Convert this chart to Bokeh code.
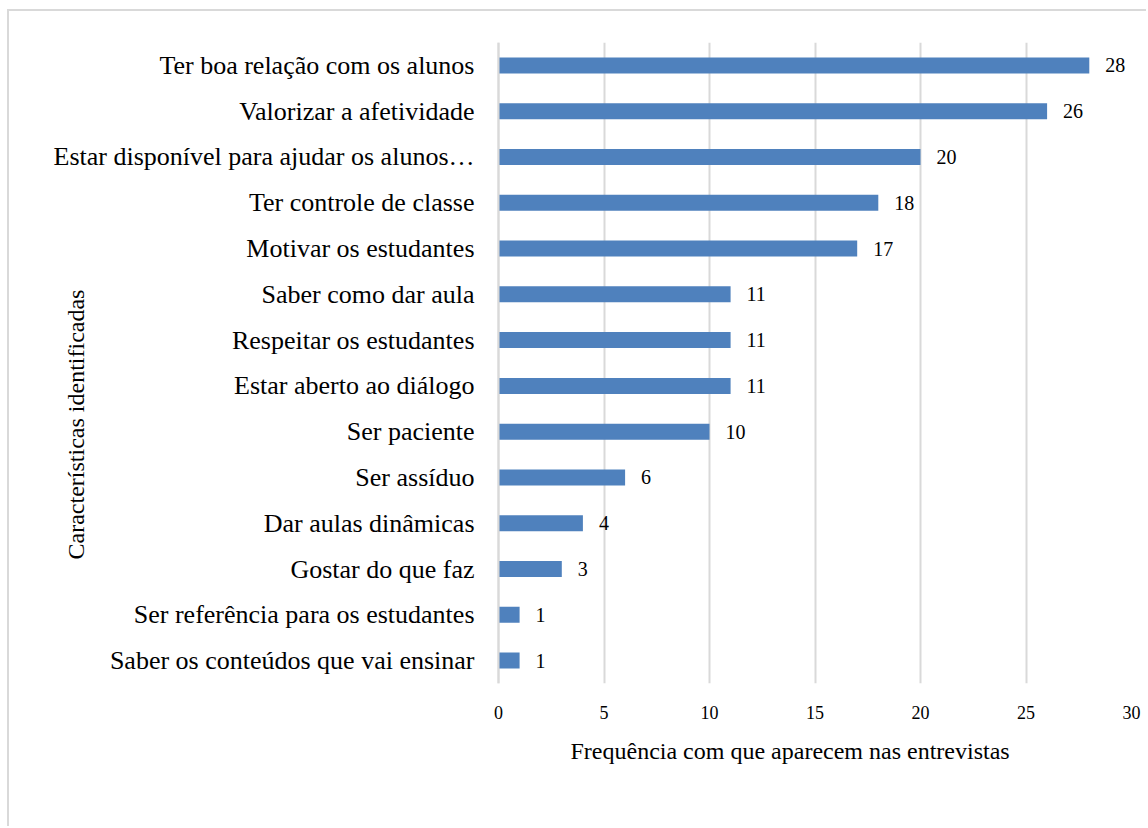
from math import pi
from bokeh.plotting import figure
from bokeh.models import FactorRange, Range1d, Title, Label, FixedTicker, ColumnDataSource
from bokeh.core.properties import value
from bokeh.embed import file_html
from bokeh.resources import INLINE

categories = [
    "Ter boa relação com os alunos",
    "Valorizar a afetividade",
    "Estar disponível para ajudar os alunos…",
    "Ter controle de classe",
    "Motivar os estudantes",
    "Saber como dar aula",
    "Respeitar os estudantes",
    "Estar aberto ao diálogo",
    "Ser paciente",
    "Ser assíduo",
    "Dar aulas dinâmicas",
    "Gostar do que faz",
    "Ser referência para os estudantes",
    "Saber os conteúdos que vai ensinar",
]
values = [28, 26, 20, 18, 17, 11, 11, 11, 10, 6, 4, 3, 1, 1]
x_ticks = [0, 5, 10, 15, 20, 25, 30]
x_max = 30
x_title = "Frequência com que aparecem nas entrevistas"
y_title = "Características identificadas"

FONT = "Liberation Serif"

# page layout (pixels)
ORIGIN_X, ORIGIN_Y = 9, 11          # content origin after css margin + border
W, H = 1148 - ORIGIN_X, 828 - ORIGIN_Y
FRAME_L, FRAME_R = 40, 1131         # page x of frame edges
ZERO_X = 498                        # page x of value 0
FRAME_T, FRAME_B = 42, 683          # page y of frame edges
px_per_unit = (FRAME_R - ZERO_X) / x_max
x_start = -(ZERO_X - FRAME_L) / px_per_unit

source = ColumnDataSource(dict(cat=categories, val=values, lab=[str(v) for v in values]))

p = figure(
    width=W, height=H,
    y_range=FactorRange(*list(reversed(categories)), range_padding=0),
    x_range=Range1d(x_start, x_max),
    output_backend="svg", toolbar_location=None,
    min_border_left=FRAME_L - ORIGIN_X, min_border_right=1148 - FRAME_R,
    min_border_top=FRAME_T - ORIGIN_Y, min_border_bottom=828 - FRAME_B,
)
p.styles = {"border-top": "2px solid #d9d9d9", "border-left": "2px solid #d9d9d9",
            "margin-left": "7px", "margin-top": "9px"}
p.outline_line_color = None
p.background_fill_color = "white"
p.border_fill_color = "white"

p.hbar(y="cat", right="val", left=0, height=0.35, source=source,
       fill_color="#4f81bd", line_color=None)

p.text(x="val", y="cat", text="lab", source=source, x_offset=16,
       text_font=value(FONT), text_font_size="20px", text_color="#000000",
       text_baseline="middle", text_align="left")

# x axis
xa = p.xaxis[0]
xa.ticker = FixedTicker(ticks=x_ticks)
xa.axis_line_color = None
xa.major_tick_line_color = None
xa.minor_tick_line_color = None
xa.major_label_text_font = FONT
xa.major_label_text_font_size = "18px"
xa.major_label_text_color = "#000000"
xa.major_label_standoff = 16

# y axis, drawn at value 0 inside the frame
ya = p.yaxis[0]
ya.fixed_location = 0
ya.axis_line_color = "#d9d9d9"
ya.axis_line_width = 2
ya.major_tick_line_color = None
ya.minor_tick_line_color = None
ya.major_label_text_font = FONT
ya.major_label_text_font_size = "26px"
ya.major_label_text_color = "#000000"
ya.major_label_standoff = 18

p.xgrid.grid_line_color = "#d9d9d9"
p.xgrid.grid_line_width = 2
p.ygrid.grid_line_color = None

pad = 0
if "padding" in Title.properties():
    pad = 9
xt = Title(text=x_title, align="left", offset=570 - FRAME_L - pad, text_font=FONT,
           text_font_size="24px", text_font_style="normal", text_color="#000000")
if pad:
    xt.padding = pad
p.add_layout(xt, "below")

ylab = Label(x=75 - FRAME_L, y=FRAME_B - 424, x_units="screen", y_units="screen",
             text=y_title, angle=pi / 2, text_font=FONT, text_font_size="24px",
             text_color="#000000", text_align="center", text_baseline="middle")
p.add_layout(ylab)

open("out.html", "w").write(file_html(p, INLINE))
